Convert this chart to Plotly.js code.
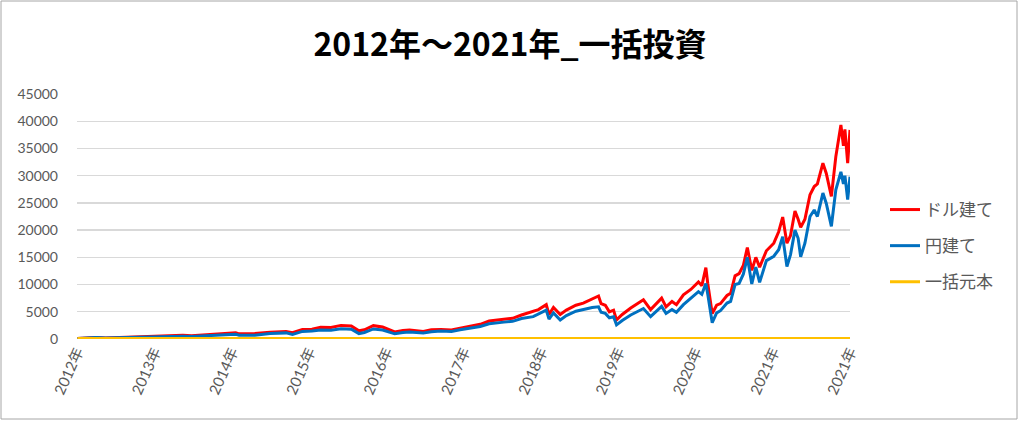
<!DOCTYPE html>
<html>
<head>
<meta charset="utf-8">
<script src="https://cdn.plot.ly/plotly-3.0.1.min.js"></script>
<style>
html,body{margin:0;padding:0;background:#fff;}
#chart{width:1024px;height:421px;}
</style>
</head>
<body>
<div id="chart"></div>
<script>
// Dates of sampled points
const dates = [
"2012-01-03","2012-03-01","2012-04-01","2012-05-15","2012-07-01","2012-09-15","2012-11-15",
"2013-01-01","2013-03-01","2013-05-15","2013-06-25","2013-09-01","2013-11-20",
"2014-01-20","2014-02-05","2014-04-20","2014-07-01","2014-09-15","2014-10-15","2014-12-01",
"2015-01-15","2015-02-25","2015-04-15","2015-06-01","2015-07-20","2015-08-25","2015-09-20","2015-11-01","2015-12-15",
"2016-02-10","2016-03-20","2016-04-20","2016-06-24","2016-08-01","2016-09-15","2016-11-04","2016-12-15",
"2017-02-01","2017-03-20","2017-05-01","2017-06-10","2017-07-10","2017-08-20","2017-10-01","2017-11-25","2017-12-20",
"2018-01-26","2018-02-08","2018-03-01","2018-04-02","2018-05-01","2018-06-15","2018-07-20","2018-08-31","2018-09-30",
"2018-10-12","2018-11-01","2018-11-20","2018-12-10","2018-12-24",
"2019-01-20","2019-03-01","2019-04-30","2019-06-03","2019-07-25","2019-08-15","2019-09-12","2019-10-03","2019-11-05","2019-12-10",
"2020-01-15","2020-01-31","2020-02-19","2020-02-28","2020-03-09","2020-03-20","2020-04-10","2020-04-28","2020-05-29","2020-06-15",
"2020-07-06","2020-07-25","2020-08-14","2020-09-02","2020-09-23","2020-10-12","2020-10-30","2020-12-01",
"2021-01-05","2021-01-28","2021-02-16","2021-03-08","2021-03-25","2021-04-15","2021-04-30","2021-05-12","2021-06-01",
"2021-06-25","2021-07-15","2021-07-30","2021-08-25","2021-09-10","2021-10-04","2021-10-25","2021-11-18","2021-11-30",
"2021-12-07","2021-12-20","2021-12-31"
];

// ドル建て
const dollarValues = [
100,250,280,200,260,380,330,
420,550,690,600,810,940,
1125,950,1000,1250,1375,1150,1750,
1800,2150,2100,2500,2400,1500,1700,2450,2200,
1300,1550,1650,1400,1700,1750,1650,2000,
2350,2700,3300,3500,3700,3800,4400,5000,5400,
6300,4500,5800,4500,5300,6200,6600,7300,7900,
6500,6200,5000,5300,3500,
4500,5700,7200,5400,7500,5900,6900,6300,8100,9100,
10500,9800,13100,10200,7500,4700,6200,6500,8000,8400,
11600,12000,13500,16800,12600,15000,13200,16200,
17600,19700,22400,17600,19000,23500,22000,20500,22000,
26500,28000,28500,32300,30400,26200,33500,39300,35500,
38500,32300,38400
];

// 円建て
const yenValues = [
100,230,260,180,230,330,300,
400,450,500,450,560,690,
875,700,690,1000,1125,850,1400,
1450,1650,1600,1875,1800,1000,1200,1850,1650,
950,1200,1300,1100,1350,1450,1400,1700,
2000,2300,2800,2900,3100,3250,3750,4100,4600,
5300,3650,4800,3500,4300,5100,5400,5800,5900,
4900,4700,3900,4100,2600,
3400,4400,5600,4100,6000,4700,5400,4900,6300,7400,
8700,8200,10200,8200,5600,3000,4800,5200,6600,6900,
10000,10200,11900,15000,10100,13200,10400,14400,
15200,16400,18800,13300,15500,20000,18500,15100,17600,
22500,23700,22500,26800,24900,20700,27400,30700,28500,
30000,25600,29800
];

// 一括元本
const principalValues = dates.map(() => 100);

const tickVals = ["2012-01-01","2013-01-01","2014-01-01","2015-01-01","2016-01-01","2017-01-01",
                  "2018-01-01","2019-01-01","2020-01-01","2021-01-01","2021-12-31"];
const tickText = ["2012年","2013年","2014年","2015年","2016年","2017年",
                  "2018年","2019年","2020年","2021年","2021年"];
const seriesNames = ["ドル建て","円建て","一括元本"];

const baseFont = "Lato, 'Noto Sans CJK JP', sans-serif";
const jpFont = "'Noto Sans CJK JP', sans-serif";

const traces = [
  {x: dates, y: dollarValues, name: seriesNames[0], type: "scatter", mode: "lines",
   line: {color: "#ff0000", width: 3}, legendgroup: "a"},
  {x: dates, y: yenValues, name: seriesNames[1], type: "scatter", mode: "lines",
   line: {color: "#0070c0", width: 3}, legendgroup: "b"},
  {x: dates, y: principalValues, name: seriesNames[2], type: "scatter", mode: "lines",
   line: {color: "#ffc000", width: 3}, legendgroup: "c"}
];

const L = 77, R = 850, T = 94, B = 339;
const pw = R - L, ph = B - T;
const px = p => (p - L) / pw;
const py = p => (B - p) / ph;

const layout = {
  width: 1024, height: 421,
  margin: {l: L, r: 1024 - R, t: T, b: 421 - B, pad: 0},
  paper_bgcolor: "#ffffff", plot_bgcolor: "#ffffff",
  title: {text: "2012年～2021年_一括投資", x: 510/1024, xref: "container", xanchor: "center",
          y: 1 - 45/421, yanchor: "middle",
          font: {family: jpFont, size: 32, color: "#000000", weight: 700}},
  showlegend: true,
  legend: {x: px(885), xanchor: "left", y: py(246), yanchor: "middle",
           font: {family: jpFont, size: 17, color: "#595959"},
           traceorder: "grouped", tracegroupgap: 11, bgcolor: "rgba(0,0,0,0)"},
  xaxis: {type: "date", range: ["2012-01-01", "2021-12-31"],
          tickmode: "array", tickvals: tickVals, ticktext: tickText,
          tickangle: -66, showgrid: false, zeroline: false, showline: false,
          ticks: "", tickfont: {family: baseFont, size: 15, color: "#595959"}},
  yaxis: {range: [0, 45000], tickmode: "linear", tick0: 0, dtick: 5000, tickformat: "d",
          showgrid: true, gridcolor: "#d9d9d9", gridwidth: 1.3, zeroline: false,
          showline: false, ticks: "", ticklabelstandoff: 18,
          tickfont: {family: baseFont, size: 14, color: "#595959"}},
  shapes: [
    {type: "rect", xref: "paper", yref: "paper",
     x0: px(1), x1: px(1017), y0: py(419), y1: py(1),
     line: {color: "#a6a6a6", width: 1}, fillcolor: "rgba(0,0,0,0)", layer: "below"}
  ]
};

Plotly.newPlot("chart", traces, layout, {displayModeBar: false, staticPlot: true});
</script>
</body>
</html>
